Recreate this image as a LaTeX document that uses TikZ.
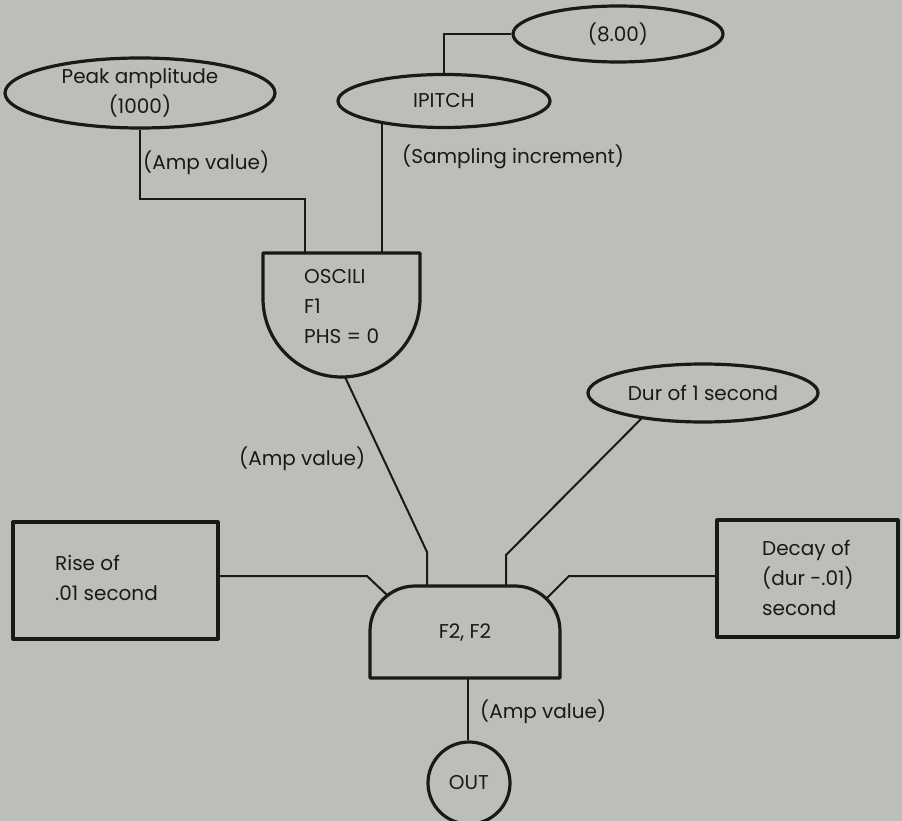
\documentclass[tikz,border=0pt]{standalone}
\usepackage{fontspec}
\setmainfont{Poppins}
\usetikzlibrary{shapes.geometric,backgrounds}
\definecolor{paper}{RGB}{190,189,185}
\definecolor{ink}{RGB}{25,25,25}
\begin{document}
\begin{tikzpicture}[x=1pt,y=-1pt,
  every node/.style={font=\fontsize{20}{30}\selectfont, text=ink, inner sep=0pt},
  unitline/.style={draw=ink, line width=3.2pt, line join=round},
  wire/.style={draw=ink, line width=2pt},
  oval/.style={ellipse, unitline, fill=paper, align=center},
  boxunit/.style={rectangle, unitline, fill=paper},
  lbl/.style={anchor=west}]
\useasboundingbox (0,0) rectangle (902,821);

% input ovals
\node[oval, minimum width=270, minimum height=70] (peak) at (140,93) {Peak amplitude\\(1000)};
\node[oval, minimum width=212, minimum height=53] (ipitch) at (444,101) {IPITCH};
\node[oval, minimum width=210, minimum height=56] (eight) at (618,34) {(8.00)};
\node[oval, minimum width=230, minimum height=58] (dur) at (703,393) {Dur of 1 second};

% OSCILI unit: flat top, straight sides, round bottom
\path[unitline, fill=paper] (263,253) -- (420,253) -- (420,298.5)
  arc[start angle=0, end angle=180, radius=78.5] -- cycle;
\node[anchor=west, align=left] (osc) at (304,307) {OSCILI\\F1\\PHS = 0};
\coordinate (oscA) at (305,253);
\coordinate (oscB) at (382,253);
\coordinate (oscOut) at (345,377);

% envelope unit F2, F2: rounded top corners
\path[unitline, fill=paper] (370,678) -- (370,631) arc[start angle=180, end angle=270, radius=45]
  -- (515,586) arc[start angle=270, end angle=360, radius=45] -- (560,678) -- cycle;
\node (env) at (465,633) {F2, F2};
\coordinate (envIn1) at (427,586);
\coordinate (envIn2) at (506,586);
\coordinate (envL) at (387,595);
\coordinate (envR) at (547,598);
\coordinate (envOut) at (468,678);

% rise and decay boxes
\node[boxunit, minimum width=205, minimum height=117] (rise) at (115.5,580.5) {};
\node[anchor=west, align=left] (risetxt) at (55,578) {Rise of\\.01 second};
\node[boxunit, minimum width=181, minimum height=117] (decay) at (807.5,578.5) {};
\node[anchor=west, align=left] (decaytxt) at (762,578) {Decay of\\(dur -.01)\\second};

% output
\node[circle, unitline, fill=paper, minimum size=82] (out) at (469,783) {OUT};

% connections
\begin{scope}[on background layer]
\fill[paper] (0,0) rectangle (902,821);
\draw[wire] (peak.south) -- (peak.south |- 0,199) -- (oscA |- 0,199) -- (oscA);
\draw[wire] (oscB) -- (oscB |- ipitch.center);
\draw[wire] (ipitch.north) |- (eight.west);
\draw[wire] (oscOut) -- (427,552) -- (envIn1);
\draw[wire] (dur.center) ++(-60,24) coordinate (durS) -- (506,555) -- (envIn2);
\draw[wire] (rise.east |- 0,576) -- (367,576) -- (envL);
\draw[wire] (decay.west |- 0,576) -- (569,576) -- (envR);
\draw[wire] (envOut) -- (envOut |- out.north);
\end{scope}

% signal labels
\node[lbl] (l1) at (143,163) {(Amp value)};
\node[lbl] (l2) at (402,157) {(Sampling increment)};
\node[lbl] (l3) at (239,459) {(Amp value)};
\node[lbl] (l4) at (480,712) {(Amp value)};
\end{tikzpicture}
\end{document}
